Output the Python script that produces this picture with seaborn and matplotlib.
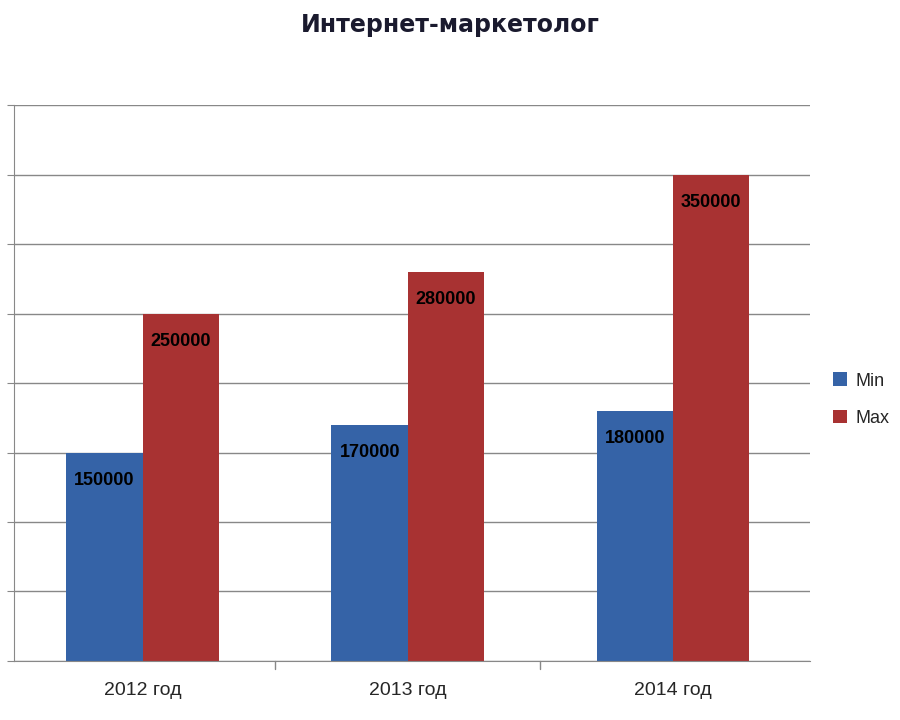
import matplotlib
matplotlib.use("Agg")
import matplotlib.pyplot as plt
import seaborn as sns
import pandas as pd

years = ["2012 год", "2013 год", "2014 год"]
series = ["Min", "Max"]
min_vals = [150000, 170000, 180000]
max_vals = [250000, 280000, 350000]
colors = ["#3563A7", "#A83232"]

df = pd.DataFrame({
    "year": years * 2,
    "series": [series[0]] * 3 + [series[1]] * 3,
    "value": min_vals + max_vals,
})

sns.set_style("white")
plt.rcParams["font.family"] = ["Liberation Sans", "DejaVu Sans"]

fig = plt.figure(figsize=(9, 7.2), dpi=100)
ax = fig.add_axes([0.0156, 0.082, 0.884, 0.772])
sns.barplot(data=df, x="year", y="value", hue="series", palette=colors,
            width=0.576, ax=ax, legend=True, saturation=1, linewidth=0)

ax.set_ylim(0, 400000)
ax.set_yticks(range(0, 400001, 50000))
ax.set_yticklabels([])
ax.grid(axis="y", color="#888888", linewidth=1)
ax.set_axisbelow(True)
ax.set_xlabel("")
ax.set_ylabel("")
for s in ["top", "right"]:
    ax.spines[s].set_visible(False)
for s in ["left", "bottom"]:
    ax.spines[s].set_color("#888888")
ax.tick_params(axis="y", left=True, length=5, color="#888888")
ax.tick_params(axis="x", bottom=False, labelsize=14, pad=12)
for xb in [0.5, 1.5]:
    ax.plot([xb, xb], [0, -6000], color="#888888", lw=1, clip_on=False)
ax.set_xlim(-0.485, 2.515)

for cont in ax.containers:
    for bar in cont:
        h = bar.get_height()
        ax.text(bar.get_x() + bar.get_width() / 2, h - 20000, f"{int(h)}",
                ha="center", va="center", fontsize=13, fontweight="bold", color="black")

handles, labels = ax.get_legend_handles_labels()
ax.get_legend().remove()
fig.legend(handles, labels, loc="center left", bbox_to_anchor=(0.925, 0.445),
           frameon=False, fontsize=13, handlelength=0.8, handleheight=0.8,
           labelspacing=1.1, handletextpad=0.5, borderaxespad=0, borderpad=0)

fig.text(0.5, 0.965, "Интернет-маркетолог", ha="center", va="center",
         fontsize=17, fontweight="bold", color="#1a1a2e",
         family=["Liberation Sans Narrow", "DejaVu Sans"])

fig.savefig("out.png", dpi=100)
